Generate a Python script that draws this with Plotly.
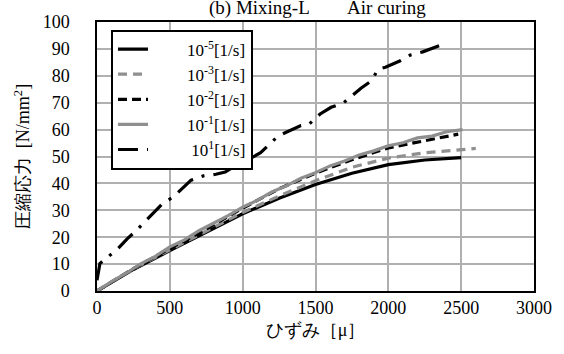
import plotly.graph_objects as go

# ---- data ----
x_m5 = [0, 250, 500, 750, 1000, 1250, 1500, 1750, 2000, 2250, 2500]
y_m5 = [0, 8.0, 15.0, 22.0, 28.7, 34.5, 39.6, 43.8, 47.0, 48.7, 49.6]

x_m3 = [0, 250, 500, 750, 1000, 1250, 1500, 1750, 2000, 2250, 2500, 2600]
y_m3 = [0, 8.2, 15.3, 22.3, 29.2, 35.3, 41.0, 46.0, 49.4, 51.4, 52.6, 53.0]

x_m2 = [0, 250, 500, 750, 1000, 1250, 1500, 1750, 2000, 2250, 2480]
y_m2 = [0, 8.3, 15.8, 23.0, 30.8, 38.0, 43.8, 48.8, 53.2, 56.0, 58.3]

x_m1 = [0, 100, 200, 300, 400, 500, 600, 700, 800, 900, 1000, 1100, 1200,
        1300, 1400, 1500, 1600, 1700, 1800, 1900, 2000, 2100, 2200, 2300,
        2400, 2510]
y_m1 = [0, 3.5, 6.6, 10.1, 12.9, 16.4, 19.0, 22.4, 25.2, 28.0, 31.2, 33.7,
        36.8, 39.1, 41.9, 44.0, 46.5, 48.3, 50.6, 52.1, 54.0, 55.1, 56.9,
        57.6, 59.2, 60.0]

x_p1 = [0, 20, 145, 207, 270, 391, 452, 525, 646, 730, 816, 880, 963, 1043,
        1123, 1243, 1321, 1400, 1452, 1532, 1607, 1691, 1812, 1884, 1930,
        1980, 2078, 2150, 2236, 2368]
y_p1 = [4.0, 10.2, 15.8, 19.4, 22.5, 29.5, 32.6, 35.0, 41.2, 42.8, 43.4,
        44.2, 47.1, 49.0, 51.4, 57.6, 59.7, 61.5, 61.8, 65.8, 68.3, 69.9,
        75.4, 78.1, 82.5, 83.2, 85.5, 87.7, 88.9, 91.6]

names = ["10<sup>-5</sup>[1/s]", "10<sup>-3</sup>[1/s]", "10<sup>-2</sup>[1/s]",
         "10<sup>-1</sup>[1/s]", "10<sup>1</sup>[1/s]"]

x_ticks = [0, 500, 1000, 1500, 2000, 2500, 3000]
y_ticks = [0, 10, 20, 30, 40, 50, 60, 70, 80, 90, 100]

GRAY = "#8f8f8f"
SERIF = "Times New Roman, Liberation Serif, DejaVu Serif, serif"
pads = ["\u00a0" * 8, "\u00a0" * 8, "\u00a0" * 8, "\u00a0" * 8, "\u00a0" * 9]

fig = go.Figure()
series = [
    (x_m5, y_m5, "black", "solid"),
    (x_m3, y_m3, GRAY, "9px,6px"),
    (x_m2, y_m2, "black", "9px,5px"),
    (x_m1, y_m1, GRAY, "solid"),
    (x_p1, y_p1, "black", "20px,9px,3px,9px"),
]
for i, (xs, ys, col, dash) in enumerate(series):
    fig.add_trace(go.Scatter(x=xs, y=ys, mode="lines", name=pads[i] + names[i],
                             line=dict(color=col, dash=dash, width=3.2)))

fig.update_layout(
    width=564, height=354,
    margin=dict(l=97, r=27, t=20, b=63),
    paper_bgcolor="white", plot_bgcolor="white",
    font=dict(family=SERIF, size=18, color="black"),
    showlegend=True,
    legend=dict(x=0.032, y=0.972, xanchor="left", yanchor="top",
                bgcolor="white", bordercolor="black", borderwidth=2,
                font=dict(family=SERIF, size=17), tracegroupgap=0,
                itemwidth=30),
    xaxis=dict(range=[0, 3000], tickvals=x_ticks, showgrid=True,
               gridcolor="#b0b0b0", gridwidth=1.5, showline=True,
               linecolor="black", linewidth=1.5, mirror=True, ticks="",
               zeroline=False, tickfont=dict(family=SERIF, size=18),
               title=dict(text="ひずみ［μ］", font=dict(family=SERIF, size=18),
                          standoff=6)),
    yaxis=dict(range=[0, 100], tickvals=y_ticks, showgrid=True,
               gridcolor="#b0b0b0", gridwidth=1.5, showline=True,
               linecolor="black", linewidth=1.5, mirror=True, ticks="",
               zeroline=False, tickfont=dict(family=SERIF, size=18),
               ticklabelstandoff=22,
               title=dict(text="圧縮応力  [N/mm<sup>2</sup>]",
                          font=dict(family=SERIF, size=18), standoff=8)),
)

fig.add_annotation(text="(b) Mixing-L\u3000\u3000Air curing", xref="paper",
                   yref="paper", x=0.505, y=1, yanchor="bottom", yshift=1,
                   showarrow=False, font=dict(family=SERIF, size=19))

fig.write_html("out.html")
